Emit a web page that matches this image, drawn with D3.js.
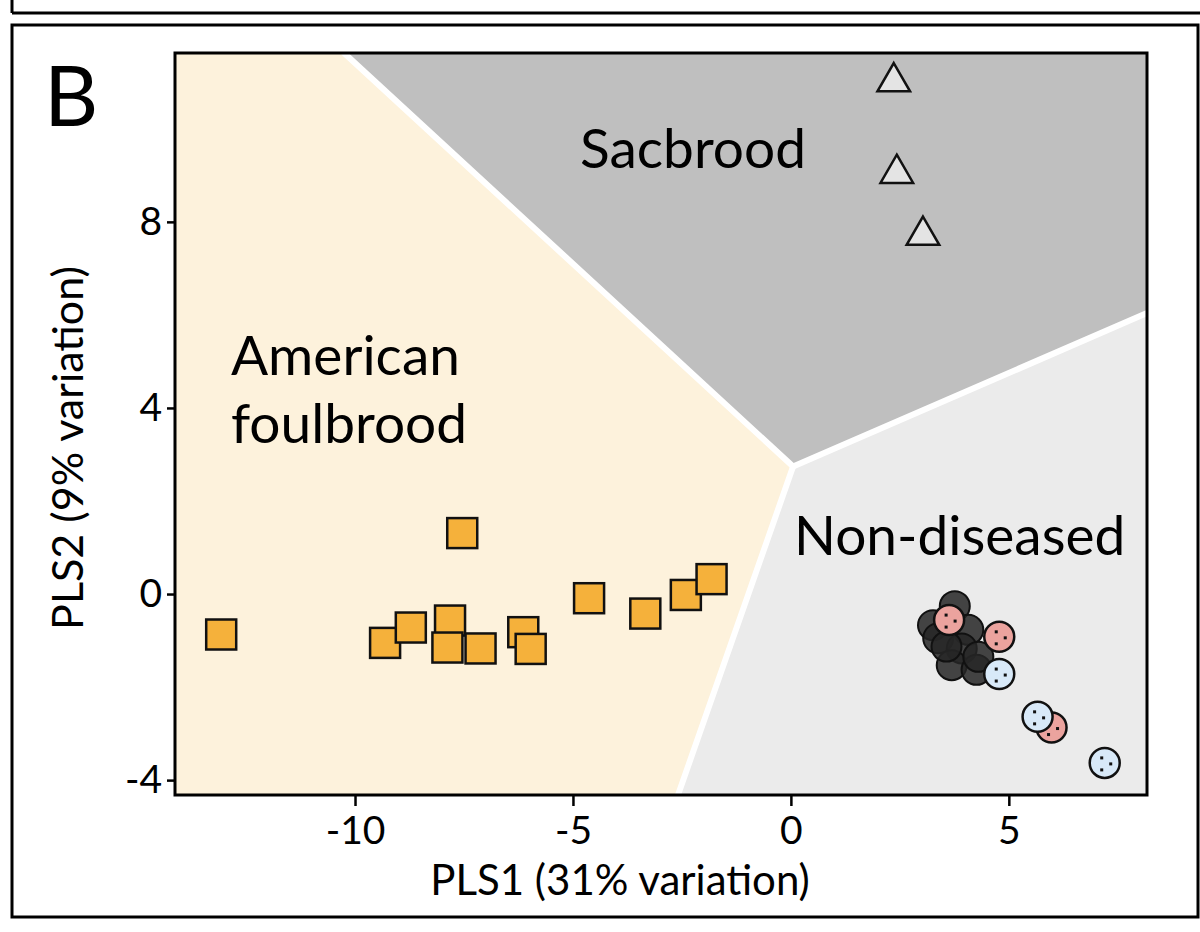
<!DOCTYPE html>
<html lang="en">
  <head>
    <meta charset="utf-8" />
    <title>PLS-DA brood disease</title>
    <script src="https://cdn.jsdelivr.net/npm/d3@7/dist/d3.min.js"></script>
    <style>
      body { margin: 0; background: #fff; }
      text { font-family: Lato, "Open Sans", sans-serif; fill: #000; }
    </style>
  </head>
  <body>
    <script>
      // points (PLS1, PLS2)
      var afbX = [-13.07, -9.31, -8.72, -7.82, -7.88, -7.12, -7.54, -6.14, -5.97, -4.63, -3.34, -2.41, -1.82]
      var afbY = [-0.87, -1.05, -0.72, -0.57, -1.15, -1.17, 1.31, -0.82, -1.18, -0.09, -0.42, -0.02, 0.32]

      var sacX = [2.36, 2.43, 3.03]
      var sacY = [11.01, 9.04, 7.71]

      var healthyX = [3.76, 3.26, 3.38, 4.07, 3.92, 3.69, 4.26, 4.30, 3.57]
      var healthyY = [-0.26, -0.67, -0.95, -0.77, -1.17, -1.53, -1.63, -1.35, -1.13]

      var pinkX = [3.63, 4.78, 5.98]
      var pinkY = [-0.56, -0.92, -2.87]

      var blueX = [4.78, 5.66, 7.20]
      var blueY = [-1.72, -2.64, -3.63]

      // class boundary: meeting point and where each edge leaves the plot
      var junction = [0.05, 2.74]
      var edgeTop = [-10.25, 11.63]
      var edgeRight = [8.17, 6.04]
      var edgeBottom = [-2.59, -4.32]

      var xTicks = [-10, -5, 0, 5]
      var yTicks = [-4, 0, 4, 8]
      var xDomain = [-14.13, 8.17]
      var yDomain = [-4.32, 11.63]

      var plot = {left: 175, right: 1147, top: 53, bottom: 795}

      var svg = d3.select("body").append("svg")
                  .attr("width", 1200)
                  .attr("height", 932)

      // panel frames
      svg.append("line")
         .attr("x1", 12).attr("x2", 1200).attr("y1", 13).attr("y2", 13)
         .attr("stroke", "#000").attr("stroke-width", 3)
      svg.append("line")
         .attr("x1", 12).attr("x2", 12).attr("y1", 0).attr("y2", 13)
         .attr("stroke", "#000").attr("stroke-width", 3)
      svg.append("rect")
         .attr("x", 12).attr("y", 25).attr("width", 1186).attr("height", 892)
         .attr("fill", "none").attr("stroke", "#000").attr("stroke-width", 3)

      var x = d3.scaleLinear().domain(xDomain).range([plot.left, plot.right])
      var y = d3.scaleLinear().domain(yDomain).range([plot.bottom, plot.top])

      svg.append("clipPath").attr("id", "clip")
         .append("rect")
           .attr("x", plot.left).attr("y", plot.top)
           .attr("width", plot.right - plot.left)
           .attr("height", plot.bottom - plot.top)

      var regions = svg.append("g").attr("clip-path", "url(#clip)")
      var x0 = xDomain[0], x1 = xDomain[1], y0 = yDomain[0], y1 = yDomain[1]

      var polys = [
        {fill: "#fdf2dc", pts: [[x0, y1], edgeTop, junction, edgeBottom, [x0, y0]]},
        {fill: "#bfbfbf", pts: [edgeTop, [x1, y1], edgeRight, junction]},
        {fill: "#ebebeb", pts: [junction, edgeRight, [x1, y0], edgeBottom]}
      ]
      var line = d3.line().x(function(d) { return x(d[0]) }).y(function(d) { return y(d[1]) })

      regions.selectAll("path.region")
        .data(polys)
        .enter().append("path")
          .attr("class", "region")
          .attr("d", function(d) { return line(d.pts) + "Z" })
          .attr("fill", function(d) { return d.fill })

      regions.selectAll("path.border")
        .data([edgeTop, edgeRight, edgeBottom])
        .enter().append("path")
          .attr("class", "border")
          .attr("d", function(d) { return line([junction, d]) })
          .attr("stroke", "#fff")
          .attr("stroke-width", 6)
          .attr("stroke-linecap", "round")
          .attr("fill", "none")

      // region names
      svg.append("text").attr("x", 693).attr("y", 168)
         .attr("text-anchor", "middle").style("font-size", "55px").text("Sacbrood")
      svg.append("text").attr("x", 231).attr("y", 375)
         .style("font-size", "55px").text("American")
      svg.append("text").attr("x", 231).attr("y", 443)
         .style("font-size", "55px").text("foulbrood")
      svg.append("text").attr("x", 794).attr("y", 555)
         .style("font-size", "55px").text("Non-diseased")

      var pts = svg.append("g").attr("clip-path", "url(#clip)")

      // American foulbrood squares
      var s = 30
      pts.selectAll("rect.afb")
        .data(d3.zip(afbX, afbY))
        .enter().append("rect")
          .attr("class", "afb")
          .attr("x", function(d) { return x(d[0]) - s / 2 })
          .attr("y", function(d) { return y(d[1]) - s / 2 })
          .attr("width", s).attr("height", s)
          .attr("fill", "#f5b13b")
          .attr("stroke", "#111").attr("stroke-width", 2.5)

      // sacbrood triangles
      var tri = d3.symbol().type(d3.symbolTriangle).size(460)
      pts.selectAll("path.sac")
        .data(d3.zip(sacX, sacY))
        .enter().append("path")
          .attr("class", "sac")
          .attr("d", tri)
          .attr("transform", function(d) { return "translate(" + x(d[0]) + "," + y(d[1]) + ")" })
          .attr("fill", "#e4e4e4")
          .attr("stroke", "#111").attr("stroke-width", 2.5)

      // non-diseased circles
      var r = 15
      pts.selectAll("circle.healthy")
        .data(d3.zip(healthyX, healthyY))
        .enter().append("circle")
          .attr("class", "healthy")
          .attr("cx", function(d) { return x(d[0]) })
          .attr("cy", function(d) { return y(d[1]) })
          .attr("r", r)
          .attr("fill", "#262626").attr("fill-opacity", 0.85)
          .attr("stroke", "#111").attr("stroke-width", 2)

      var dots = [[-3, -5], [6, 1], [-3, 7]]
      function dotted(sel, cls, xs, ys, fill) {
        var g = sel.selectAll("g." + cls)
          .data(d3.zip(xs, ys))
          .enter().append("g")
            .attr("class", cls)
            .attr("transform", function(d) { return "translate(" + x(d[0]) + "," + y(d[1]) + ")" })
        g.append("circle")
          .attr("r", r)
          .attr("fill", fill)
          .attr("stroke", "#111").attr("stroke-width", 2.5)
        g.selectAll("rect")
          .data(dots)
          .enter().append("rect")
            .attr("x", function(d) { return d[0] - 1.5 })
            .attr("y", function(d) { return d[1] - 1.5 })
            .attr("width", 3).attr("height", 3)
            .attr("fill", "#111")
      }
      dotted(pts, "pink", pinkX, pinkY, "#eba39e")
      dotted(pts, "blue", blueX, blueY, "#d8e9f8")

      // plot frame
      svg.append("rect")
         .attr("x", plot.left).attr("y", plot.top)
         .attr("width", plot.right - plot.left).attr("height", plot.bottom - plot.top)
         .attr("fill", "none").attr("stroke", "#000").attr("stroke-width", 3)

      // axes
      var gx = svg.append("g")
         .attr("transform", "translate(0," + plot.bottom + ")")
         .call(d3.axisBottom(x).tickValues(xTicks).tickSize(11).tickSizeOuter(0).tickPadding(10)
                 .tickFormat(d3.format("d")))
      var gy = svg.append("g")
         .attr("transform", "translate(" + plot.left + ",0)")
         .call(d3.axisLeft(y).tickValues(yTicks).tickSize(8).tickSizeOuter(0).tickPadding(5)
                 .tickFormat(d3.format("d")))
      ;[gx, gy].forEach(function(g) {
        g.select(".domain").remove()
        g.selectAll(".tick line").attr("stroke", "#000").attr("stroke-width", 2.5)
        g.selectAll(".tick text")
          .style("font-family", "Lato, sans-serif")
          .style("font-size", "39px")
          .text(function(d) { return d < 0 ? "-" + Math.abs(d) : d })
      })

      svg.append("text").attr("x", 620).attr("y", 895)
         .attr("text-anchor", "middle").style("font-size", "42px")
         .text("PLS1 (31% variation)")
      svg.append("text")
         .attr("transform", "translate(83,448) rotate(-90)")
         .attr("text-anchor", "middle").style("font-size", "43px")
         .text("PLS2 (9% variation)")

      svg.append("text").attr("x", 44).attr("y", 126)
         .style("font-size", "84px").text("B")
    </script>
  </body>
</html>
